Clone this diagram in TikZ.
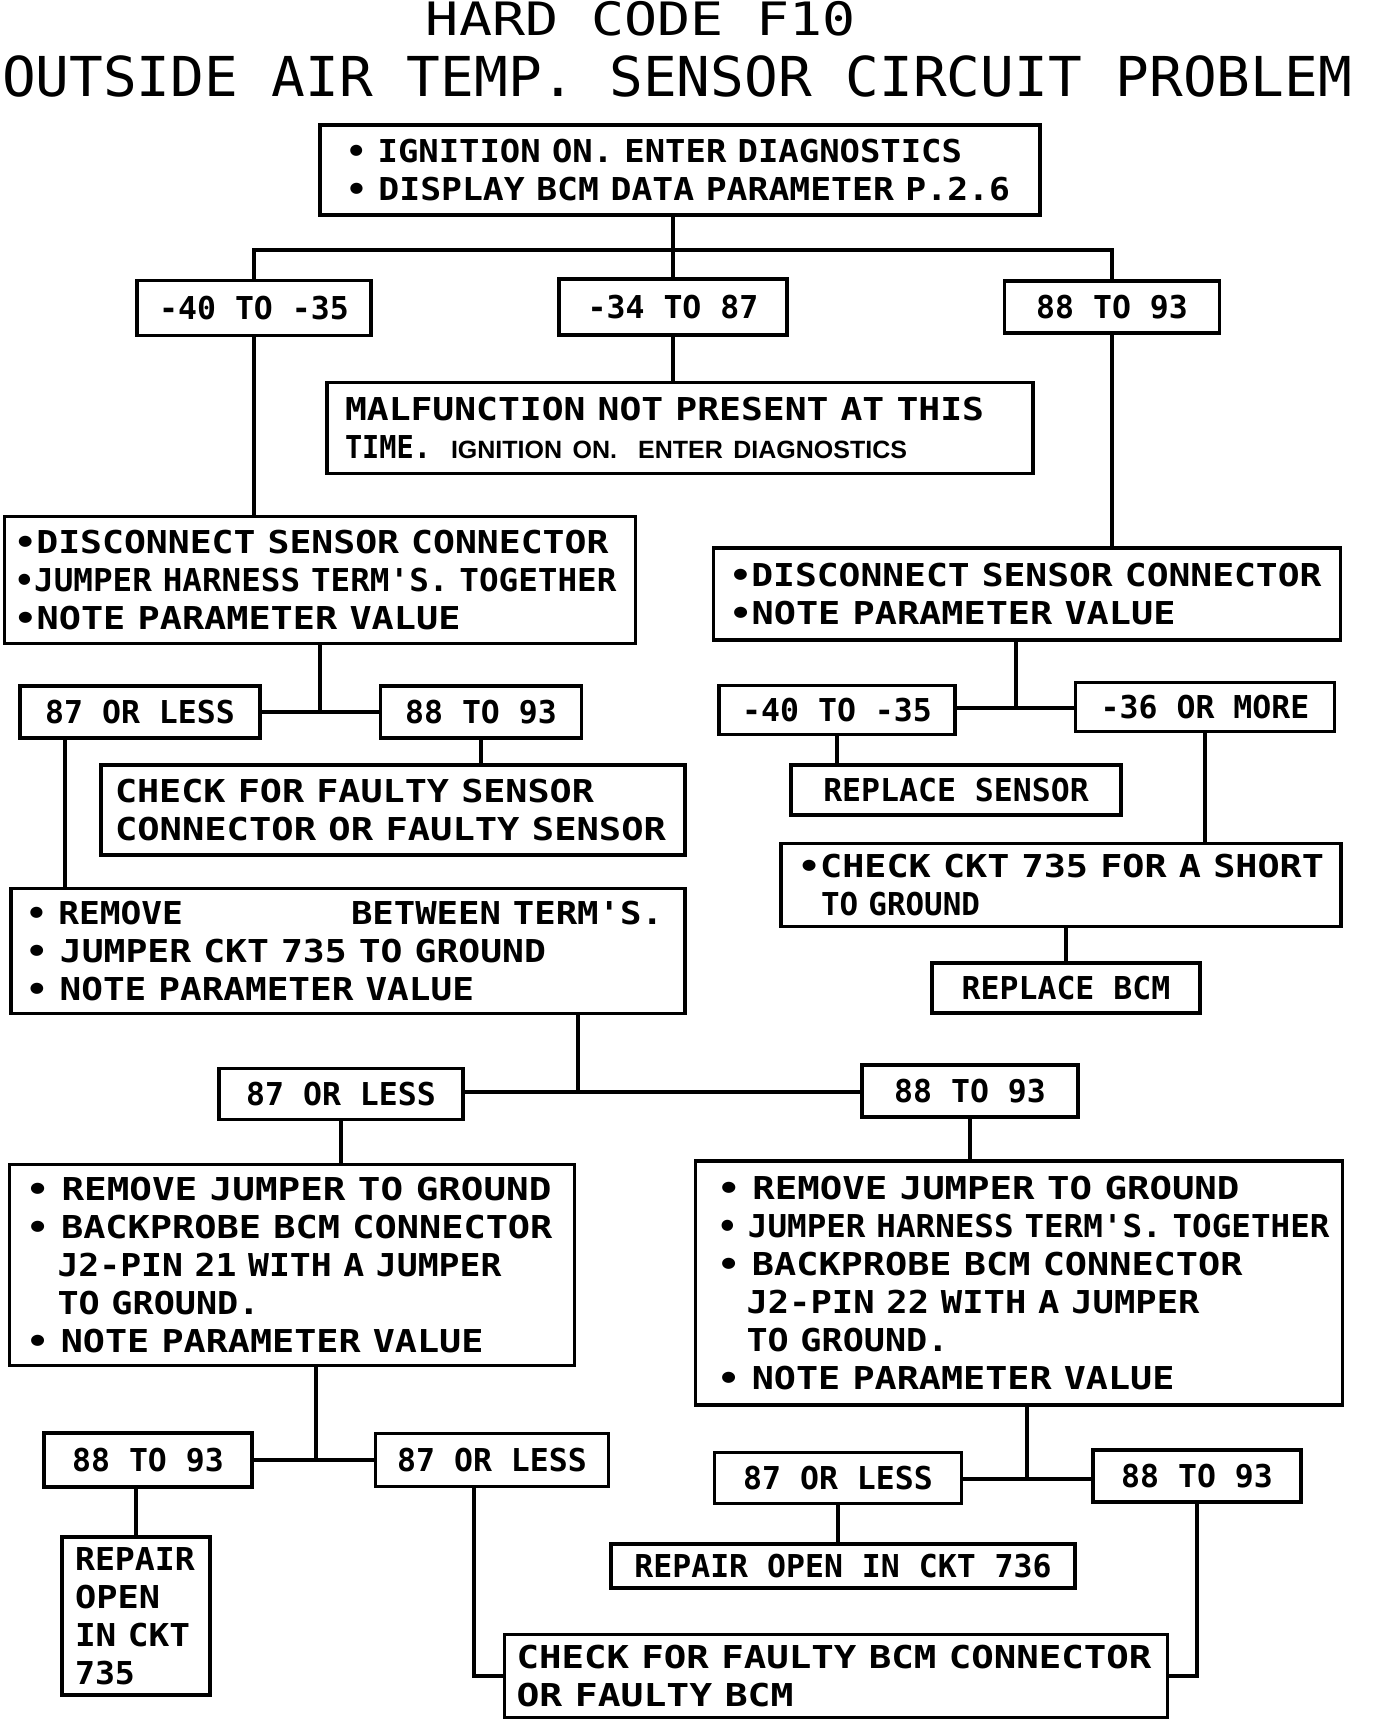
\documentclass[tikz,border=0pt]{standalone}
\usepackage{fontspec}
\usepackage{graphicx}
\newfontfamily\monof{DejaVu Sans Mono}
\newfontfamily\helf{Liberation Sans}
\newcommand\bxfont{\monof\bfseries\fontsize{31.5}{38}\selectfont}
% \lin[indent]{width}{text}: one line of a box, stretched to the width it has in the reference
\newcommand\lin[3][0pt]{\mbox{\hspace*{#1}\resizebox{#2}{\height}{#3}}\par}
\newcommand\fitw[2]{\resizebox{#1}{\height}{#2}}
\tikzset{
  bx/.style={draw, line width=3.5pt, font=\bxfont},
  sb/.style 2 args={bx, minimum width=#1, minimum height=#2, inner sep=0pt, align=center},
  mb/.style n args={4}{bx, minimum width=#1, minimum height=#2, inner xsep=#3, inner ysep=0pt, text width=#4, align=left},
  cn/.style={line width=3.5pt}
}
\begin{document}
\begin{tikzpicture}[x=1pt,y=-1pt]
\useasboundingbox[fill=white] (0,0) rectangle (1376,1720);
% titles
\node[anchor=base, inner sep=0pt, font={\monof\fontsize{46}{50}\selectfont}] (t1) at (641,36) {\fitw{430pt}{HARD CODE F10}};
\node[anchor=base, inner sep=0pt, font={\monof\fontsize{55}{60}\selectfont}] (t2) at (677,97) {\fitw{1350pt}{OUTSIDE AIR TEMP. SENSOR CIRCUIT PROBLEM}};
% boxes
\node[mb={720}{90}{26pt}{668pt}] (b1) at (680,170) {\lin{616pt}{• IGNITION ON. ENTER DIAGNOSTICS}\lin{664pt}{• DISPLAY BCM DATA PARAMETER P.2.6}};
\node[sb={234}{55}] (r1) at (254,308) {-40 TO -35};
\node[sb={228}{56}] (r2) at (673,307) {-34 TO 87};
\node[sb={215}{52}] (r3) at (1112,307) {88 TO 93};
\node[mb={706}{91}{18pt}{670pt}] (mal) at (680,428) {\lin{639pt}{MALFUNCTION NOT PRESENT AT THIS}\mbox{\fitw{86pt}{TIME.}\hspace{20pt}\fitw{456pt}{\helf\bfseries\fontsize{25}{38}\selectfont IGNITION ON.\ \ ENTER DIAGNOSTICS}}\par};
\node[mb={631}{127}{10pt}{611pt}] (L1) at (320,580) {\lin{594pt}{•DISCONNECT SENSOR CONNECTOR}\lin{602pt}{•JUMPER HARNESS TERM'S. TOGETHER}\lin{446pt}{•NOTE PARAMETER VALUE}};
\node[mb={627}{92}{16pt}{595pt}] (R1) at (1027,594) {\lin{592pt}{•DISCONNECT SENSOR CONNECTOR}\lin{446pt}{•NOTE PARAMETER VALUE}};
\node[sb={240}{52}] (a1) at (140,712) {87 OR LESS};
\node[sb={201}{52}] (a2) at (481,712) {88 TO 93};
\node[mb={584}{90}{14pt}{556pt}] (chk1) at (393,810) {\lin{479pt}{CHECK FOR FAULTY SENSOR}\lin{551pt}{CONNECTOR OR FAULTY SENSOR}};
\node[mb={674}{125}{15pt}{644pt}] (rem) at (348,951) {\mbox{\makebox[325pt][l]{\fitw{157pt}{• REMOVE}}\fitw{312pt}{BETWEEN TERM'S.}}\par\lin{520pt}{• JUMPER CKT 735 TO GROUND}\lin{448pt}{• NOTE PARAMETER VALUE}};
\node[sb={236}{49}] (c1) at (837,710) {-40 TO -35};
\node[sb={259}{49}] (c2) at (1205,707) {-36 OR MORE};
\node[sb={330}{50}] (rs) at (956,790) {REPLACE SENSOR};
\node[mb={560}{83}{17pt}{526pt}] (ck) at (1061,885) {\lin{526pt}{•CHECK CKT 735 FOR A SHORT}\lin[23pt]{159pt}{TO GROUND}};
\node[sb={268}{50}] (rb) at (1066,988) {REPLACE BCM};
\node[sb={244}{51}] (d1) at (341,1094) {87 OR LESS};
\node[sb={216}{52}] (d2) at (970,1091) {88 TO 93};
\node[mb={565}{201}{17pt}{531pt}] (LL) at (292,1265) {\lin{525pt}{• REMOVE JUMPER TO GROUND}\lin{526pt}{• BACKPROBE BCM CONNECTOR}\lin[31pt]{444pt}{J2-PIN 21 WITH A JUMPER}\lin[31pt]{202pt}{TO GROUND.}\lin{457pt}{• NOTE PARAMETER VALUE}};
\node[mb={647}{244}{22pt}{603pt}] (RR) at (1019,1283) {\lin{522pt}{• REMOVE JUMPER TO GROUND}\lin{612pt}{• JUMPER HARNESS TERM'S. TOGETHER}\lin{525pt}{• BACKPROBE BCM CONNECTOR}\lin[29pt]{453pt}{J2-PIN 22 WITH A JUMPER}\lin[29pt]{202pt}{TO GROUND.}\lin{457pt}{• NOTE PARAMETER VALUE}};
\node[sb={208}{54}] (e1) at (148,1460) {88 TO 93};
\node[sb={233}{53}] (e2) at (492,1460) {87 OR LESS};
\node[mb={148}{158}{13pt}{122pt}] (rp) at (136,1616) {\lin{120pt}{REPAIR}\lin{85pt}{OPEN}\lin{115pt}{IN CKT}\lin{60pt}{735}};
\node[mb={663}{83}{12pt}{639pt}] (cb) at (836,1676) {\lin{635pt}{CHECK FOR FAULTY BCM CONNECTOR}\lin{277pt}{OR FAULTY BCM}};
\node[sb={247}{51}] (f1) at (838,1478) {87 OR LESS};
\node[sb={208}{52}] (f2) at (1197,1476) {88 TO 93};
\node[sb={464}{44}] (ro) at (843,1566) {REPAIR OPEN IN CKT 736};
% connectors
\coordinate (j1) at (673,250);
\draw[cn] (j1 |- b1.south) -- (j1);
\draw[cn] (r1.north) |- (j1) -| (r3.north);
\draw[cn] (j1) -- (r2.north);
\draw[cn] (r2.south) -- (r2.south |- mal.north);
\draw[cn] (r1.south) -- (r1.south |- L1.north);
\draw[cn] (r3.south) -- (r3.south |- R1.north);
\coordinate (j2) at (320,712);
\draw[cn] (j2 |- L1.south) -- (j2);
\draw[cn] (a1.east) -- (a2.west);
\draw[cn] (a2.south) -- (a2.south |- chk1.north);
\path (a1.south) ++(-75pt,0) coordinate (a1p);
\draw[cn] (a1p) -- (a1p |- rem.north);
\coordinate (j3) at (1016,708);
\draw[cn] (j3 |- R1.south) -- (j3);
\draw[cn] (c1.east |- j3) -- (c2.west |- j3);
\draw[cn] (c1.south) -- (c1.south |- rs.north);
\draw[cn] (c2.south) -- (c2.south |- ck.north);
\draw[cn] (rb.north |- ck.south) -- (rb.north);
\coordinate (j4) at (578,1092);
\draw[cn] (j4 |- rem.south) -- (j4);
\draw[cn] (d1.east |- j4) -- (d2.west |- j4);
\draw[cn] (d1.south) -- (d1.south |- LL.north);
\draw[cn] (d2.south) -- (d2.south |- RR.north);
\coordinate (j5) at (316,1460);
\draw[cn] (j5 |- LL.south) -- (j5);
\draw[cn] (e1.east) -- (e2.west);
\draw[cn] (rp.north |- e1.south) -- (rp.north);
\path (e2.south) ++(-18pt,0) coordinate (e2p);
\draw[cn] (e2p) |- (cb.west);
\coordinate (j6) at (1027,1479);
\draw[cn] (j6 |- RR.south) -- (j6);
\draw[cn] (f1.east |- j6) -- (f2.west |- j6);
\draw[cn] (f1.south) -- (f1.south |- ro.north);
\draw[cn] (f2.south) |- (cb.east);
\end{tikzpicture}
\end{document}
